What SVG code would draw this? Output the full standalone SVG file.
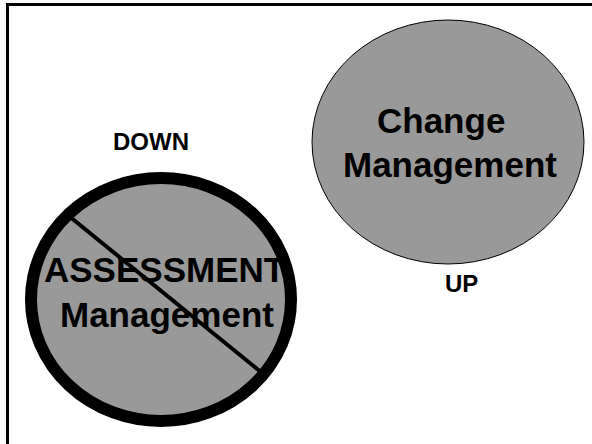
<svg xmlns="http://www.w3.org/2000/svg" width="592" height="444" viewBox="0 0 592 444">
<style>
text{font-family:"Liberation Sans",Arial,sans-serif;font-weight:bold;fill:#000}
.big{font-size:35px}
.lbl{font-size:24px}
.node{fill:#999999;stroke:#000}
</style>
<rect width="592" height="444" fill="#fff"/>
<g id="frame" stroke="#000" stroke-width="3" fill="none">
<path d="M7.5,444 V4.5 H592"/>
</g>
<g id="change">
<ellipse class="node" cx="448" cy="142" rx="136" ry="122" stroke-width="1"/>
<text class="big" x="377" y="133">Change</text>
<text class="big" x="343" y="177">Management</text>
</g>
<g id="assessment">
<ellipse class="node" cx="161" cy="299.5" rx="130" ry="121.5" stroke-width="12"/>
<text class="big" x="44" y="282">ASSESSMENT</text>
<text class="big" x="60" y="327">Management</text>
</g>
<g id="connectors">
<line x1="71.7" y1="218.3" x2="266.7" y2="376.7" stroke="#000" stroke-width="4"/>
</g>
<g id="labels">
<text class="lbl" x="113" y="150">DOWN</text>
<text class="lbl" x="445" y="292">UP</text>
</g>
</svg>
